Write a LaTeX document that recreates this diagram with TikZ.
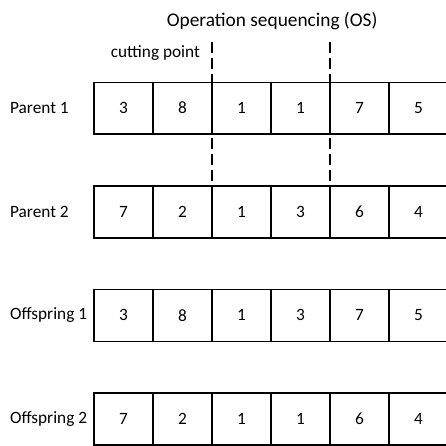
\documentclass[tikz,border=0pt]{standalone}
\usepackage{fontspec}
\setmainfont{Carlito}
\tikzset{
  gene/.style={draw, line width=1pt, minimum width=1.5cm, minimum height=1.32cm,
    inner sep=0pt, outer sep=0pt},
  cut/.style={line width=1.6pt, dash pattern=on 8pt off 3.6pt}
}
\begin{document}
\begin{tikzpicture}[font=\fontsize{12.5}{15}\selectfont]
  \useasboundingbox (0,0) rectangle (11.34,11.34);
  \clip (0,0) rectangle (11.34,11.34);
  \node[font=\fontsize{14}{17}\selectfont] (title) at (6.92,10.80) {Operation sequencing (OS)};
  \node[anchor=east, inner sep=0pt] (cutlabel) at (5.09,9.98) {cutting point};
  % the four chromosomes, six genes each
  \foreach \key/\name/\yc/\vals in {p1/Parent 1/8.59/{3,8,1,1,7,5},
                                    p2/Parent 2/5.95/{7,2,1,3,6,4},
                                    o1/Offspring 1/3.32/{3,8,1,3,7,5},
                                    o2/Offspring 2/0.69/{7,2,1,1,6,4}} {
    \node[anchor=west, inner sep=0pt] (\key) at (0.25,\yc) {\name};
    \foreach \v [count=\i from 0] in \vals
      \node[gene] (\key-\i) at (3.14+\i*1.5,\yc) {\v};
  }
  % cutting points
  \draw[cut] (5.39,10.27) -- (5.39,5.29);
  \draw[cut] (8.39,10.27) -- (8.39,5.29);
\end{tikzpicture}
\end{document}
